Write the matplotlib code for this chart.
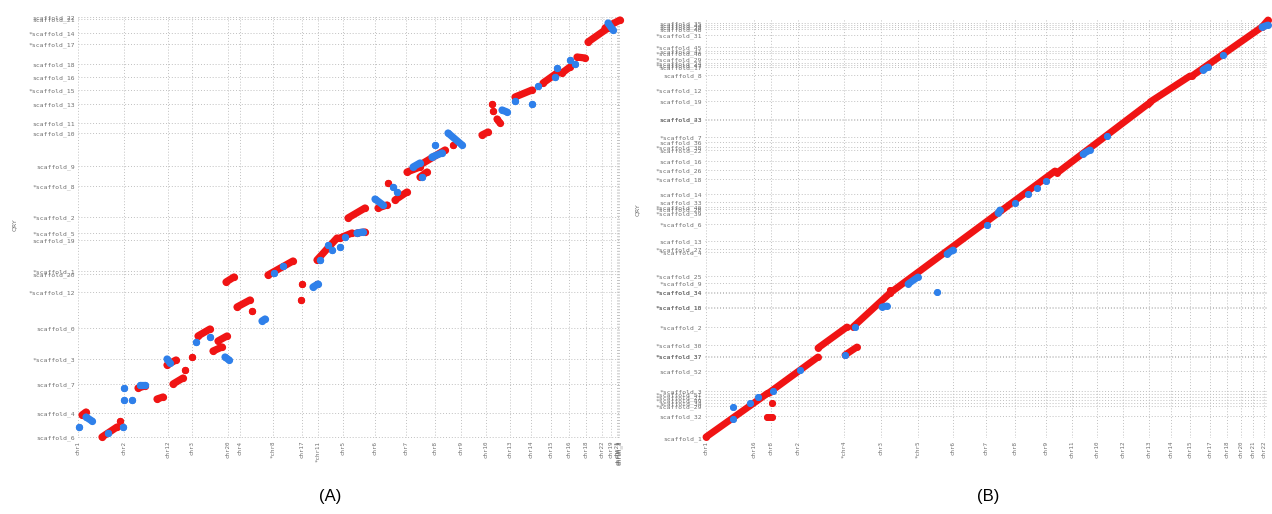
import matplotlib
matplotlib.use("Agg")
import matplotlib.pyplot as plt

RED = "#f01414"
BLUE = "#2f80ea"
TICK_GREY = "#707070"

# ---- panel A -------------------------------------------------------------
a_xticks = [0, 46, 90, 114, 150, 162, 195, 224, 240, 265, 297, 328, 357, 383,
            408, 432, 453, 473, 491, 508, 524, 533, 539, 540, 541, 542]
a_xlabels = ["chr1", "chr2", "chr12", "chr3", "chr20", "chr4", "*chr8", "chr17",
             "*chr11", "chr5", "chr6", "chr7", "chr8", "chr9", "chr10", "chr13",
             "chr14", "chr15", "chr16", "chr18", "chr22", "chr19", "chr21",
             "chrUn_1", "chrUn_2", "chrUn_3"]
a_yticks = [421, 419, 405, 394, 374, 361, 348, 334, 315, 305, 272, 252, 221,
            205, 198, 167, 164, 146, 110, 79, 54, 25, 1]
a_ylabels = ["scaffold_22", "scaffold_21", "*scaffold_14", "*scaffold_17",
             "scaffold_18", "scaffold_16", "*scaffold_15", "scaffold_13",
             "scaffold_11", "scaffold_10", "scaffold_9", "*scaffold_8",
             "*scaffold_2", "*scaffold_5", "scaffold_19", "*scaffold_1",
             "scaffold_20", "*scaffold_12", "scaffold_0", "*scaffold_3",
             "scaffold_7", "scaffold_4", "scaffold_6"]

# alignment blocks: (ref start, qry start, ref end, qry end)
a_forward = [
    (4, 23, 8, 26), (24, 1, 39, 11), (42, 17, 42, 17), (60, 50, 67, 52),
    (79, 39, 85, 41), (89, 73, 98, 78), (95, 54, 105, 60), (107, 68, 107, 68),
    (114, 81, 114, 81), (120, 102, 132, 109), (135, 87, 144, 91),
    (140, 97, 149, 102), (148, 156, 156, 161), (159, 131, 172, 138),
    (174, 127, 174, 127), (190, 163, 215, 177), (224, 154, 224, 154),
    (223, 138, 223, 138), (239, 154, 239, 154), (239, 178, 259, 200),
    (262, 200, 274, 205), (279, 205, 287, 206), (270, 220, 287, 230),
    (300, 230, 309, 233), (310, 255, 310, 255), (317, 238, 329, 246),
    (329, 266, 342, 271), (342, 261, 349, 266), (342, 273, 367, 288),
    (375, 293, 375, 293), (404, 303, 410, 306), (414, 334, 414, 334),
    (415, 327, 415, 327), (419, 319, 422, 315), (437, 341, 454, 348),
    (465, 355, 479, 365), (484, 365, 492, 371), (499, 381, 507, 380),
    (510, 396, 530, 410), (527, 410, 542, 418),
]
a_reverse = [
    (1, 11, 1, 11), (8, 21, 14, 17), (30, 5, 30, 5), (45, 11, 45, 11),
    (46, 50, 46, 50), (46, 38, 46, 38), (54, 38, 54, 38), (62, 53, 67, 53),
    (89, 79, 92, 75), (118, 96, 118, 96), (132, 101, 132, 101),
    (147, 81, 151, 78), (184, 117, 187, 119), (196, 165, 196, 165),
    (205, 172, 205, 172), (235, 151, 240, 154), (242, 178, 242, 178),
    (250, 193, 250, 193), (254, 188, 254, 188), (262, 191, 262, 191),
    (267, 201, 267, 201), (279, 205, 285, 206), (297, 239, 305, 233),
    (315, 251, 315, 251), (319, 246, 319, 246), (335, 271, 342, 275),
    (344, 261, 344, 261), (354, 281, 364, 285), (357, 293, 357, 293),
    (370, 305, 384, 293), (424, 328, 429, 326), (437, 337, 437, 337),
    (454, 334, 454, 334), (460, 352, 460, 352), (479, 370, 479, 370),
    (477, 361, 477, 361), (492, 378, 492, 378), (497, 374, 497, 374),
    (530, 415, 535, 408),
]

# ---- panel B -------------------------------------------------------------
b_xticks = [1, 49, 66, 93, 139, 176, 213, 248, 281, 310, 341, 367, 392, 418,
            444, 466, 485, 505, 522, 536, 548, 559]
b_xlabels = ["chr1", "chr16", "chr8", "chr2", "*chr4", "chr3", "*chr5", "chr6",
             "chr7", "chr8", "chr9", "chr11", "chr10", "chr12", "chr13", "chr14",
             "chr15", "chr17", "chr18", "chr20", "chr21", "chr22"]
b_yticks = [415, 413, 411, 409, 403, 391, 387, 385, 379, 375, 373, 371, 363,
            348, 337, 319, 318.4, 301, 296, 291, 288, 277, 268, 259, 244, 236,
            231, 229, 225, 214, 197, 189, 186, 162, 155, 146, 145.4, 131,
            130.4, 111, 93, 82, 81.4, 67, 47, 44, 41, 38, 35, 32, 22, 0]
b_ylabels = ["scaffold_35", "scaffold_44", "scaffold_28", "scaffold_48",
             "*scaffold_31", "*scaffold_45", "scaffold_41", "*scaffold_46",
             "*scaffold_29", "*scaffold_24", "*scaffold_47", "scaffold_17",
             "scaffold_8", "*scaffold_12", "scaffold_19", "scaffold_23",
             "scaffold_43", "*scaffold_7", "scaffold_36", "*scaffold_38",
             "scaffold_22", "scaffold_16", "*scaffold_26", "*scaffold_18",
             "scaffold_14", "scaffold_33", "*scaffold_40", "*scaffold_28",
             "*scaffold_39", "*scaffold_6", "scaffold_13", "*scaffold_27",
             "*scaffold_4", "*scaffold_25", "*scaffold_9", "*scaffold_34",
             "*scaffold_34", "*scaffold_10", "*scaffold_10", "*scaffold_2",
             "*scaffold_30", "*scaffold_37", "*scaffold_37", "scaffold_52",
             "*scaffold_3", "*scaffold_51", "*scaffold_21", "*scaffold_49",
             "scaffold_34", "*scaffold_29", "scaffold_32", "scaffold_1"]

b_forward = [
    (1, 1, 63, 45), (65, 46, 113, 81), (113, 90, 142, 111),
    (148, 111, 185, 145), (185, 145, 350, 267), (352, 265, 443, 334),
    (445, 336, 485, 362), (487, 362, 557, 411), (557, 411, 563, 418),
    (62, 21, 67, 21), (67, 35, 67, 35), (140, 83, 152, 91),
    (185, 148, 185, 148),
]
b_reverse = [
    (28, 19, 28, 19), (28, 31, 28, 31), (45, 35, 45, 35), (53, 41, 53, 41),
    (68, 47, 68, 47), (95, 68, 95, 68), (140, 83, 140, 83),
    (150, 111, 150, 111), (177, 131, 182, 132), (203, 154, 213, 161),
    (232, 146, 232, 146), (242, 184, 248, 188), (282, 213, 282, 213),
    (293, 225, 295, 228), (310, 235, 310, 235), (323, 244, 323, 244),
    (332, 250, 332, 250), (341, 257, 341, 257), (378, 284, 385, 288),
    (402, 302, 402, 302), (498, 368, 503, 371), (518, 383, 518, 383),
    (557, 411, 563, 413),
]


def draw_panel(ax, xticks, xlabels, yticks, ylabels, fwd, rev, xmax, ymax, size):
    for blocks, colour in ((fwd, RED), (rev, BLUE)):
        for x0, y0, x1, y1 in blocks:
            ax.plot([x0, x1], [y0, y1], color=colour, lw=size,
                    solid_capstyle="round", marker="o", ms=size, mew=0,
                    clip_on=False, zorder=3)
    ax.set_xlim(0, xmax)
    ax.set_ylim(0, ymax)
    ax.set_xticks(xticks)
    ax.set_xticklabels(xlabels, rotation=90, fontsize=4.2,
                       family="DejaVu Sans Mono", color=TICK_GREY)
    ax.set_yticks(yticks)
    ax.set_yticklabels(ylabels, fontsize=4.6, family="DejaVu Sans Mono",
                       color=TICK_GREY)
    ax.tick_params(length=0, pad=2)
    ax.grid(True, linestyle=(0, (1, 2)), color="#c0c0c0", lw=0.7)
    for s in ax.spines.values():
        s.set_visible(False)


fig = plt.figure(figsize=(12.72, 5.14), dpi=100)
ax_a = fig.add_axes([78 / 1272, 76 / 514, 542 / 1272, 421 / 514])
ax_b = fig.add_axes([705 / 1272, 76 / 514, 563 / 1272, 420 / 514])

draw_panel(ax_a, a_xticks, a_xlabels, a_yticks, a_ylabels,
           a_forward, a_reverse, 542, 421, 5.2)
draw_panel(ax_b, b_xticks, b_xlabels, b_yticks, b_ylabels,
           b_forward, b_reverse, 563, 420, 5.0)

fig.text(15 / 1272, 1 - 225 / 514, "QRY", rotation=90, fontsize=4.5,
         color=TICK_GREY, ha="center", va="center")
fig.text(638 / 1272, 1 - 210 / 514, "QRY", rotation=90, fontsize=4.5,
         color=TICK_GREY, ha="center", va="center")
fig.text(330 / 1272, 1 - 496 / 514, "(A)", fontsize=12, ha="center", va="center",
         family="Liberation Sans")
fig.text(988 / 1272, 1 - 496 / 514, "(B)", fontsize=12, ha="center", va="center",
         family="Liberation Sans")

fig.savefig("out.png", dpi=100, facecolor="white")
